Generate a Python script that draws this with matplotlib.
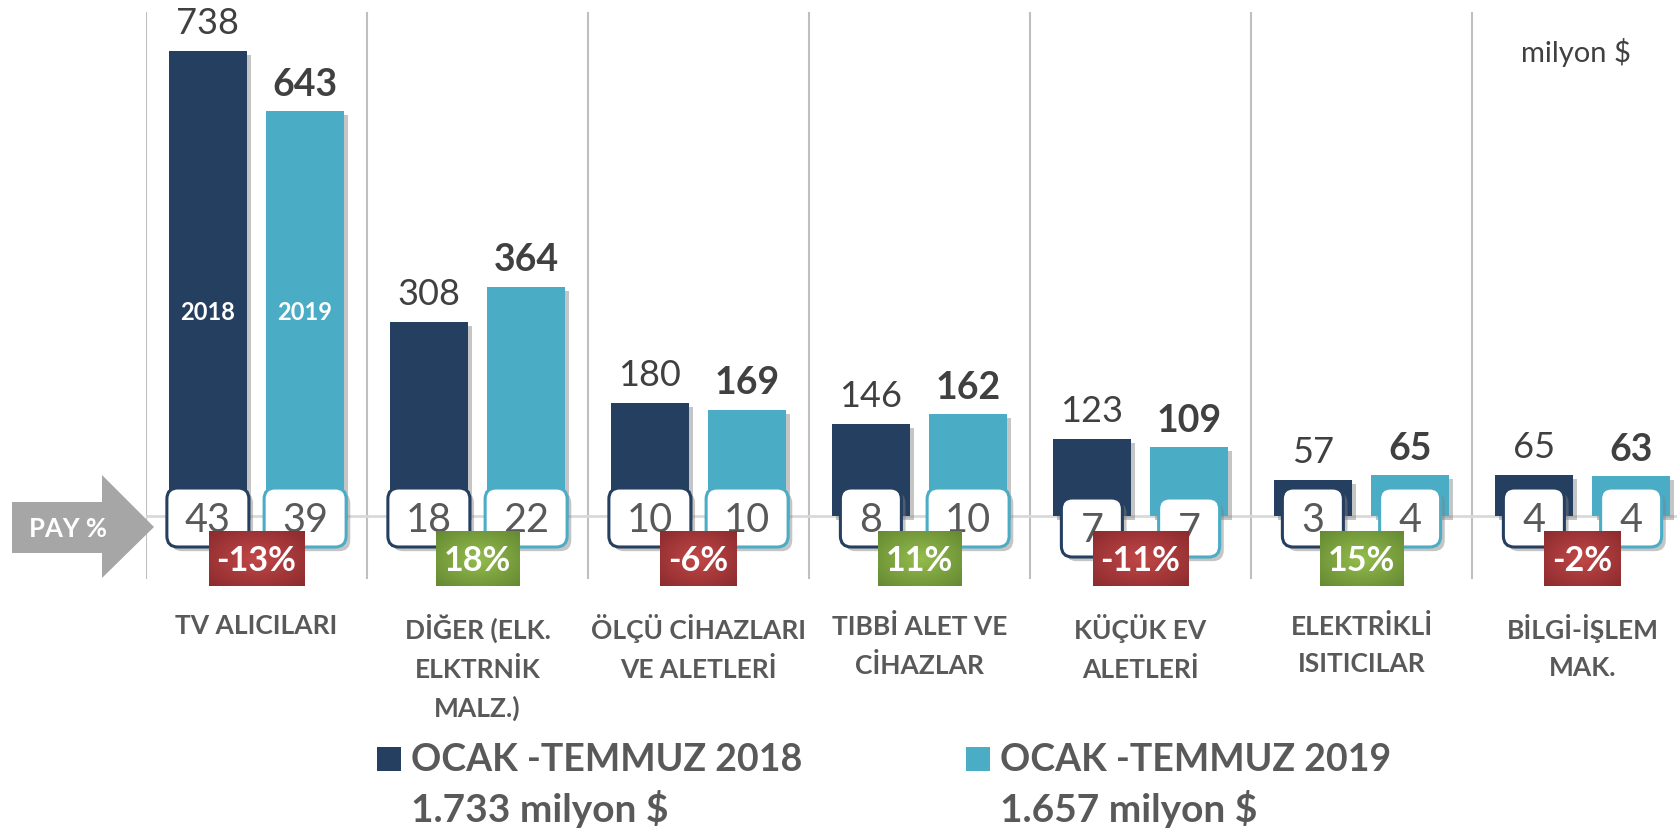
import numpy as np
import matplotlib
matplotlib.use('Agg')
from matplotlib import pyplot as plt
from matplotlib.patches import FancyBboxPatch, Polygon, Rectangle
import matplotlib.patheffects as pe

# values (milyon $, share %, change %)
categories = ['TV ALICILARI', 'DİĞER (ELK.\nELKTRNİK\nMALZ.)', 'ÖLÇÜ CİHAZLARI\nVE ALETLERİ',
              'TIBBİ ALET VE\nCİHAZLAR', 'KÜÇÜK EV\nALETLERİ', 'ELEKTRİKLİ\nISITICILAR', 'BİLGİ-İŞLEM\nMAK.']
values_2018 = [738, 308, 180, 146, 123, 57, 65]
values_2019 = [643, 364, 169, 162, 109, 65, 63]
share_2018 = [43, 18, 10, 8, 7, 3, 4]
share_2019 = [39, 22, 10, 10, 7, 4, 4]
change = [-13, 18, -6, 11, -11, 15, -2]
series_names = ['OCAK -TEMMUZ 2018', 'OCAK -TEMMUZ 2019']
totals = ['1.733 milyon $', '1.657 milyon $']

NAVY = '#253F60'
TEAL = '#4BACC6'
GREY = '#595959'

plt.rcParams['font.family'] = ['Lato', 'DejaVu Sans']

W, H = 1677, 833
X0, GROUP = 146, 221          # px of first separator, px per category
TOP, BOT, BASE = 12, 579, 516  # px rows of the plot area
PXY = 0.63                     # px per milyon $

fig = plt.figure(figsize=(W / 100, H / 100), dpi=100)
ax = fig.add_axes([X0 / W, 1 - BOT / H, 1 - X0 / W, (BOT - TOP) / H])
ax.set_xlim(-0.5, -0.5 + (W - X0) / GROUP)
ax.set_ylim(-(BOT - BASE) / PXY, (BASE - TOP) / PXY)
ax.axis('off')
renderer = fig.canvas.get_renderer()

def py(p):  # pixel row -> data y
    return (BASE - p) / PXY

x = np.arange(len(categories))
off, bw = 0.22, 0.35
shadow = [pe.SimplePatchShadow(offset=(3, -3), shadow_rgbFace='#808080', alpha=0.45), pe.Normal()]

for i in range(len(categories)):
    ax.axvline(i - 0.5, color='#BFBFBF', lw=1.5, zorder=1)
ax.axhline(0, color='#D9D9D9', lw=2, zorder=1)

b1 = ax.bar(x - off, values_2018, bw, color=NAVY, zorder=3)
b2 = ax.bar(x + off, values_2019, bw, color=TEAL, zorder=3)
for r in list(b1) + list(b2):
    r.set_path_effects(shadow)

for xi, v in zip(x, values_2018):
    ax.annotate(str(v), (xi - off, v), xytext=(0, 12), textcoords='offset points',
                ha='center', va='baseline', fontsize=26, color='#404040')
for xi, v in zip(x, values_2019):
    ax.annotate(str(v), (xi + off, v), xytext=(0, 11), textcoords='offset points',
                ha='center', va='baseline', fontsize=27, fontweight='bold', color='#404040')

ax.text(x[0] - off, py(312), '2018', ha='center', va='center', fontsize=17,
        fontweight='bold', color='white', zorder=4)
ax.text(x[0] + off, py(312), '2019', ha='center', va='center', fontsize=17,
        fontweight='bold', color='white', zorder=4)

# share boxes on the baseline
box_drop = [0, 0, 0, 0, 10, 0, 0]
for shares, sign, ec in [(share_2018, -1, NAVY), (share_2019, 1, TEAL)]:
    for i, s in enumerate(shares):
        wpx = 40 + 21 * len(str(s))
        cy = 517.5 + box_drop[i]
        w, h = wpx / GROUP, 59 / PXY
        xc = x[i] + sign * off
        box = FancyBboxPatch((xc - w / 2, py(cy) - h / 2), w, h,
                             boxstyle='round,pad=0,rounding_size=%f' % (11 / GROUP),
                             mutation_aspect=GROUP / PXY, fc='white', ec=ec, lw=2.2,
                             zorder=5, clip_on=False)
        box.set_path_effects(shadow)
        ax.add_patch(box)
        ax.text(xc, py(cy + 14), str(s), ha='center', va='baseline', fontsize=28.5,
                color=GREY, zorder=6)

# change bubbles with a soft radial shading
yy, xx = np.mgrid[-1:1:40j, -1:1:80j]
glow = 1 - np.clip(np.sqrt(xx ** 2 + yy ** 2) / 1.4, 0, 1)
bubble_cols = {True: (np.array([0.55, 0.17, 0.18]), np.array([0.76, 0.28, 0.28])),
               False: (np.array([0.40, 0.54, 0.20]), np.array([0.58, 0.74, 0.30]))}
for i, c in enumerate(change):
    t = ax.text(x[i], py(571), '%d%%' % c, ha='center', va='baseline', fontsize=24.5,
                fontweight='bold', color='white', zorder=8)
    wpx = t.get_window_extent(renderer).width + 16
    w, h = wpx / GROUP, 55 / PXY
    dark, light = bubble_cols[c < 0]
    img = dark + (light - dark) * glow[..., None]
    ax.imshow(img, extent=(x[i] - w / 2, x[i] + w / 2, py(586), py(531)), aspect='auto',
              zorder=7, clip_on=False, interpolation='bilinear')
ax.set_xlim(-0.5, -0.5 + (W - X0) / GROUP)
ax.set_ylim(-(BOT - BASE) / PXY, (BASE - TOP) / PXY)

# category labels
for i, name in enumerate(categories):
    ax.text(x[i], py(614), name, ha='center', va='top', fontsize=19, fontweight='bold',
            color=GREY, linespacing=1.65)

def fx(p):
    return p / W

def fy(p):
    return 1 - p / H

# PAY % arrow
arrow = [(12, 502), (102, 502), (102, 475), (154, 527), (102, 578), (102, 553), (12, 553)]
fig.patches.append(Polygon([(fx(a), fy(b)) for a, b in arrow], closed=True, fc='#A6A6A6',
                           ec='none', transform=fig.transFigure, figure=fig))
fig.text(fx(68), fy(529), 'PAY %', ha='center', va='center', fontsize=18.5,
         fontweight='bold', color='white')

fig.text(fx(1521), fy(62), 'milyon $', ha='left', va='baseline', fontsize=21, color='#404040')

# legend
for lx, col, name, tot in [(377, NAVY, series_names[0], totals[0]),
                           (966, TEAL, series_names[1], totals[1])]:
    fig.patches.append(Rectangle((fx(lx), fy(771)), 24 / W, 24 / H, fc=col, ec='none',
                                 transform=fig.transFigure, figure=fig))
    fig.text(fx(lx + 34), fy(771), name, ha='left', va='baseline', fontsize=27,
             fontweight='bold', color=GREY)
    fig.text(fx(lx + 34), fy(822), tot, ha='left', va='baseline', fontsize=28,
             fontweight='bold', color=GREY)

fig.savefig('out.png', dpi=100)
